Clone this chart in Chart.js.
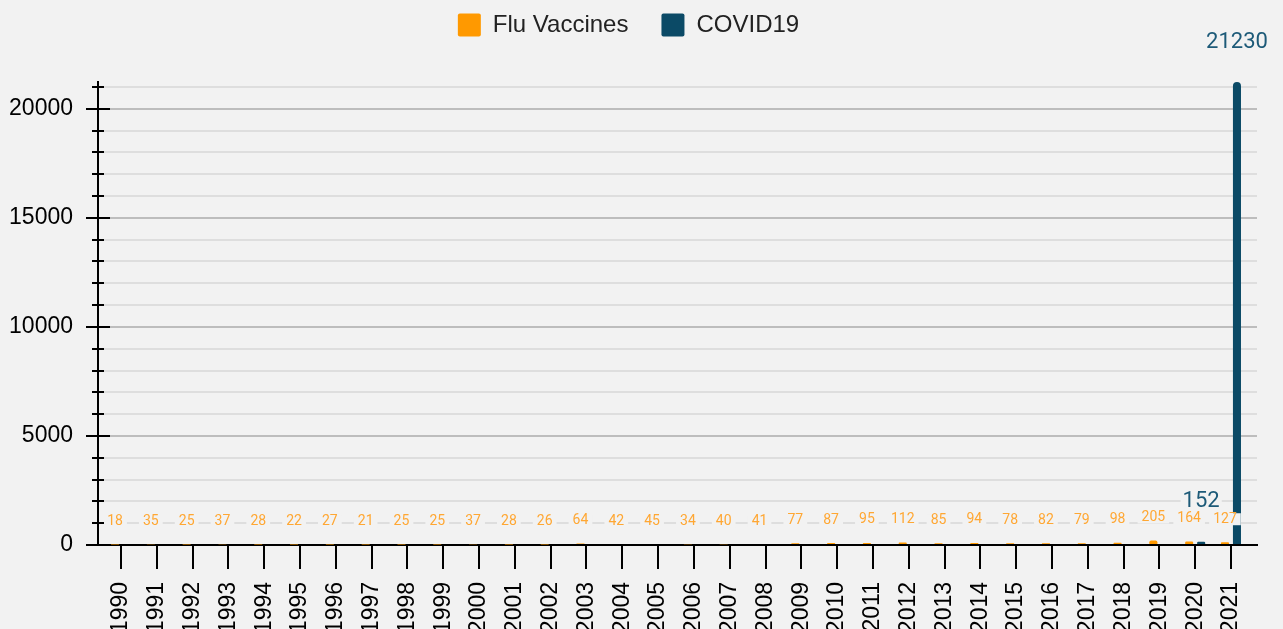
<!DOCTYPE html>
<html>
<head>
<meta charset="utf-8">
<title>Flu Vaccines vs COVID19</title>
<script src="https://cdn.jsdelivr.net/npm/chart.js@4.4.1/dist/chart.umd.min.js"></script>
<style>
  html, body { margin: 0; padding: 0; background: #f2f2f2; }
  #wrap { width: 1283px; height: 629px; }
</style>
</head>
<body>
<div id="wrap"><canvas id="chart" width="1283" height="629"></canvas></div>
<script>
// data
const years = ['1990', '1991', '1992', '1993', '1994', '1995', '1996', '1997', '1998', '1999',
    '2000', '2001', '2002', '2003', '2004', '2005', '2006', '2007', '2008', '2009',
    '2010', '2011', '2012', '2013', '2014', '2015', '2016', '2017', '2018', '2019',
    '2020', '2021'];
const fluVaccines = [18, 35, 25, 37, 28, 22, 27, 21, 25, 25,
    37, 28, 26, 64, 42, 45, 34, 40, 41, 77,
    87, 95, 112, 85, 94, 78, 82, 79, 98, 205,
    164, 127];
const covid19 = [null, null, null, null, null, null, null, null, null, null,
    null, null, null, null, null, null, null, null, null, null,
    null, null, null, null, null, null, null, null, null, null,
    152, 21230];
const yTickLabels = [0, 5000, 10000, 15000, 20000];
const yGridStep = 1000;

const axisFont = 'Liberation Sans, Arial, sans-serif';
const BG = '#f2f2f2';

// value labels above each bar, with a background patch
const labelStyles = [
    { size: 14, color: '#ffa733', offset: 23, pad: 4, box: 12 },
    { size: 22, color: '#1d5a78', offset: 40, pad: 2, box: 16 }
];
const valueLabels = {
    id: 'valueLabels',
    afterDatasetsDraw(chart) {
        const ctx = chart.ctx;
        chart.data.datasets.forEach((ds, i) => {
            const meta = chart.getDatasetMeta(i);
            const st = labelStyles[i];
            ctx.save();
            ctx.font = st.size + 'px Roboto';
            ctx.textAlign = 'center';
            ctx.textBaseline = 'middle';
            meta.data.forEach((bar, j) => {
                const v = ds.data[j];
                if (v == null) return;
                const txt = String(v);
                const w = ctx.measureText(txt).width;
                const cy = bar.y - st.offset;
                ctx.fillStyle = BG;
                ctx.fillRect(bar.x - w / 2 - st.pad, cy - st.box / 2, w + st.pad * 2, st.box);
                ctx.fillStyle = st.color;
                ctx.fillText(txt, bar.x, cy);
            });
            ctx.restore();
        });
    }
};

// tick marks crossing the y axis (long at labelled values, short otherwise)
const yAxisTicks = {
    id: 'yAxisTicks',
    afterDraw(chart) {
        const y = chart.scales.y;
        const ctx = chart.ctx;
        const x0 = chart.chartArea.left;
        ctx.save();
        ctx.strokeStyle = '#000';
        ctx.lineWidth = 2;
        y.ticks.forEach(t => {
            const py = Math.round(y.getPixelForValue(t.value));
            const len = yTickLabels.includes(t.value) ? 12 : 6;
            ctx.beginPath();
            ctx.moveTo(x0 - len, py);
            ctx.lineTo(x0 + len, py);
            ctx.stroke();
        });
        ctx.restore();
    }
};

// legend: keep items near the top but leave room above the plot
const legendSpace = {
    id: 'legendSpace',
    beforeInit(chart) {
        const fit = chart.legend.fit;
        chart.legend.fit = function () {
            fit.call(this);
            this.height = 82;
        };
    },
    afterLayout(chart) {
        chart.legend.top = -20;
    }
};

const ctx = document.getElementById('chart').getContext('2d');
new Chart(ctx, {
    type: 'bar',
    data: {
        labels: years,
        datasets: [{
            label: 'Flu Vaccines',
            data: fluVaccines,
            backgroundColor: '#ff9900',
            borderWidth: 0,
            borderRadius: 3,
            categoryPercentage: 0.67,
            barPercentage: 0.67
        }, {
            label: 'COVID19',
            data: covid19,
            backgroundColor: '#0b4a66',
            borderWidth: 0,
            borderRadius: { topLeft: 4, topRight: 4 },
            categoryPercentage: 0.67,
            barPercentage: 0.67
        }]
    },
    options: {
        responsive: false,
        animation: false,
        layout: { padding: { left: 0, right: 26, top: 0, bottom: 0 } },
        plugins: {
            tooltip: { enabled: false },
            legend: {
                position: 'top',
                labels: {
                    boxWidth: 23,
                    boxHeight: 23,
                    padding: 33,
                    color: '#222',
                    useBorderRadius: true,
                    borderRadius: 2,
                    font: { size: 24, family: axisFont }
                }
            }
        },
        scales: {
            x: {
                afterFit(scale) { scale.height = 84; },
                afterBuildTicks(scale) {
                    scale._startValue = -0.643;
                    scale._valueRange = 32.37;
                },
                grid: {
                    offset: false,
                    drawOnChartArea: false,
                    drawTicks: true,
                    tickLength: 24,
                    color: '#000',
                    lineWidth: 2
                },
                border: { display: true, color: '#000', width: 2 },
                ticks: {
                    autoSkip: false,
                    minRotation: 90,
                    maxRotation: 90,
                    padding: 13,
                    color: '#000',
                    font: { size: 23, family: axisFont }
                }
            },
            y: {
                min: 0,
                max: Math.max(...covid19.filter(v => v != null)),
                afterFit(scale) { scale.width = 98; },
                afterBuildTicks(scale) {
                    const ticks = [];
                    for (let v = 0; v <= scale.max; v += yGridStep) ticks.push({ value: v });
                    scale.ticks = ticks;
                },
                grid: {
                    drawTicks: false,
                    lineWidth: 2,
                    color: c => (c.tick && yTickLabels.includes(c.tick.value)) ? '#bdbdbd' : '#dedede'
                },
                border: { display: true, color: '#000', width: 2 },
                ticks: {
                    autoSkip: false,
                    padding: 25,
                    color: '#000',
                    font: { size: 23, family: axisFont },
                    callback: v => yTickLabels.includes(v) ? String(v) : ''
                }
            }
        }
    },
    plugins: [legendSpace, valueLabels, yAxisTicks]
});
</script>
</body>
</html>
